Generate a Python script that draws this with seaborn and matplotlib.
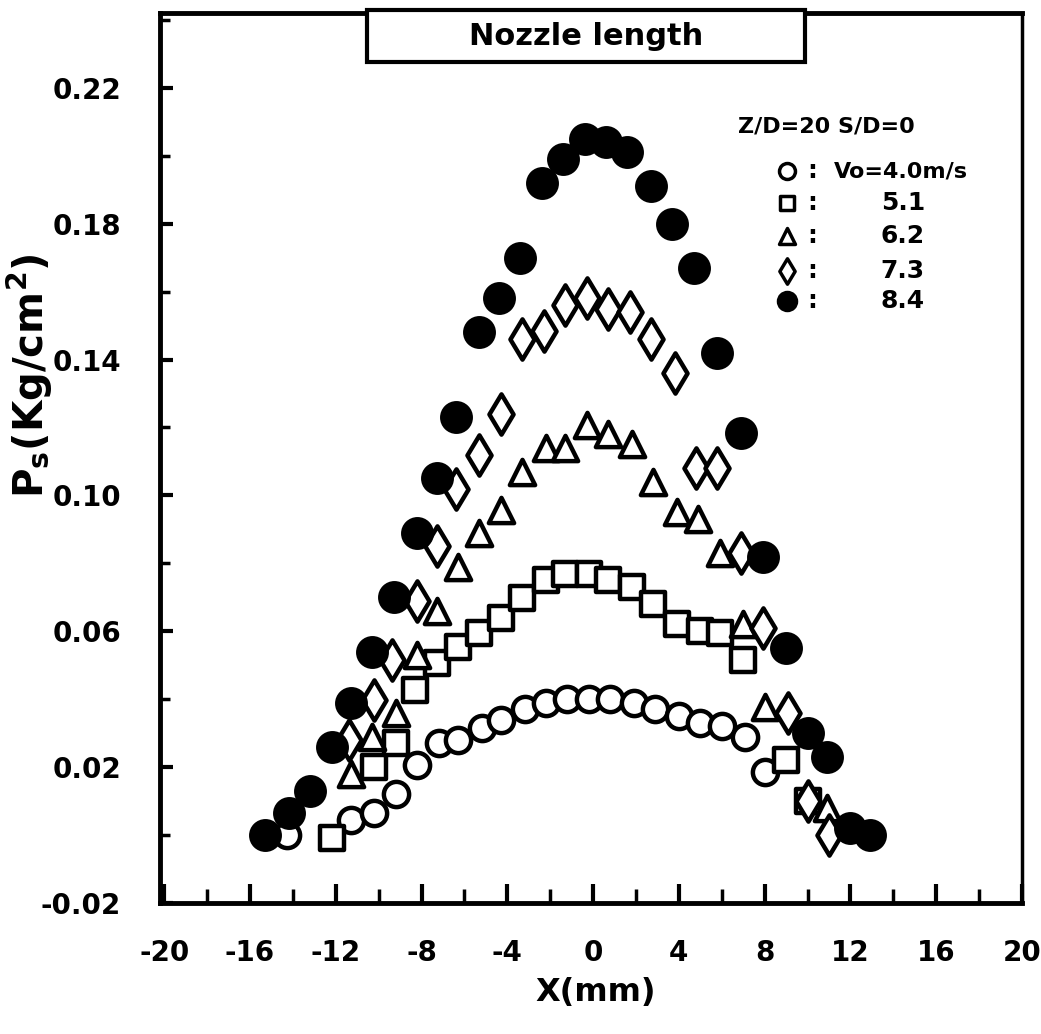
import matplotlib
matplotlib.use("Agg")
import matplotlib.pyplot as plt
from matplotlib.patches import Rectangle
from matplotlib.ticker import MultipleLocator, FixedLocator
import seaborn as sns
import pandas as pd

# ---------------- data ----------------
series_labels = ["Vo=4.0m/s", "5.1", "6.2", "7.3", "8.4"]

v40_x = [-14.3, -11.3, -10.2, -9.2, -8.2, -7.2, -6.3, -5.2, -4.3, -3.2, -2.2, -1.2,
         -0.2, 0.8, 1.9, 2.9, 4.0, 5.0, 6.0, 7.1, 8.0]
v40_y = [0.000, 0.0044, 0.0065, 0.012, 0.0205, 0.027, 0.028, 0.0315, 0.034, 0.037,
         0.039, 0.040, 0.040, 0.040, 0.039, 0.037, 0.035, 0.033, 0.032, 0.029, 0.0185]

v51_x = [-12.2, -10.2, -9.2, -8.3, -7.3, -6.3, -5.3, -4.3, -3.3, -2.2, -1.3, -0.2,
         0.7, 1.8, 2.8, 3.9, 5.0, 5.9, 7.0, 9.0, 10.0]
v51_y = [-0.001, 0.020, 0.027, 0.0427, 0.0506, 0.0553, 0.0594, 0.064, 0.0697, 0.075,
         0.077, 0.077, 0.075, 0.073, 0.068, 0.062, 0.060, 0.0594, 0.0515, 0.022, 0.010]

v62_x = [-11.3, -10.3, -9.2, -8.2, -7.3, -6.3, -5.3, -4.3, -3.3, -2.2, -1.3, -0.3,
         0.7, 1.8, 2.8, 3.9, 4.9, 5.9, 7.0, 8.0, 10.9]
v62_y = [0.018, 0.029, 0.036, 0.053, 0.066, 0.079, 0.089, 0.0956, 0.107, 0.114,
         0.114, 0.1206, 0.118, 0.115, 0.104, 0.095, 0.093, 0.083, 0.062, 0.0376, 0.008]

v73_x = [-11.4, -10.2, -9.4, -8.2, -7.3, -6.4, -5.3, -4.3, -3.3, -2.3, -1.3, -0.3,
         0.7, 1.7, 2.7, 3.8, 4.8, 5.8, 6.9, 7.9, 9.1, 10.0, 11.0]
v73_y = [0.028, 0.0397, 0.0515, 0.069, 0.085, 0.102, 0.112, 0.124, 0.146, 0.1485,
         0.156, 0.158, 0.155, 0.154, 0.146, 0.136, 0.108, 0.108, 0.083, 0.061, 0.036,
         0.010, 0.000]

v84_x = [-15.3, -14.2, -13.2, -12.2, -11.3, -10.3, -9.3, -8.2, -7.3, -6.4, -5.3, -4.4,
         -3.4, -2.4, -1.4, -0.4, 0.6, 1.6, 2.7, 3.7, 4.7, 5.8, 6.9, 7.9, 9.0, 10.0,
         10.9, 12.0, 12.9]
v84_y = [0.000, 0.0065, 0.013, 0.026, 0.039, 0.054, 0.070, 0.089, 0.105, 0.123, 0.148,
         0.158, 0.170, 0.192, 0.199, 0.205, 0.204, 0.201, 0.191, 0.180, 0.167, 0.142,
         0.1185, 0.082, 0.055, 0.030, 0.023, 0.002, 0.000]

x_ticklabels = [-20, -16, -12, -8, -4, 0, 4, 8, 12, 16, 20]
y_ticklabels = [-0.02, 0.02, 0.06, 0.10, 0.14, 0.18, 0.22]

title_text = "Nozzle length"
legend_header = "Z/D=20 S/D=0"
x_label = "X(mm)"
y_label = r"P$_\mathbf{s}$(Kg/cm$^\mathbf{2}$)"

# ---------------- style ----------------
sns.set_theme(style="white")
plt.rcParams["font.family"] = ["DejaVu Sans"]
plt.rcParams["font.weight"] = "bold"
plt.rcParams["mathtext.default"] = "bf"
plt.rcParams["text.color"] = "black"
plt.rcParams["axes.labelcolor"] = "black"
plt.rcParams["xtick.color"] = "black"
plt.rcParams["ytick.color"] = "black"

fig = plt.figure(figsize=(10.41, 10.34), dpi=100)
ax = fig.add_axes([0.1537, 0.1267, 0.8280, 0.8607])

frames = []
for lab, xs, ys in zip(series_labels,
                       [v40_x, v51_x, v62_x, v73_x, v84_x],
                       [v40_y, v51_y, v62_y, v73_y, v84_y]):
    frames.append(pd.DataFrame({"x": xs, "y": ys, "series": lab}))
df = pd.concat(frames, ignore_index=True)

styles = {
    "Vo=4.0m/s": dict(marker="o", s=330, facecolor="white"),
    "5.1": dict(marker="s", s=280, facecolor="white"),
    "6.2": dict(marker="^", s=330, facecolor="white"),
    "7.3": dict(marker="d", s=420, facecolor="white"),
    "8.4": dict(marker="o", s=420, facecolor="black"),
}
for lab in series_labels:
    st = styles[lab]
    sub = df[df["series"] == lab]
    sns.scatterplot(data=sub, x="x", y="y", ax=ax, marker=st["marker"], s=st["s"],
                    facecolor=st["facecolor"], edgecolor="black", linewidth=3.2,
                    legend=False, zorder=3)

ax.set_xlim(-20.2, 20.0)
ax.set_ylim(-0.02, 0.242)

ax.xaxis.set_major_locator(FixedLocator(x_ticklabels))
ax.xaxis.set_minor_locator(MultipleLocator(2))
ax.set_xticklabels([str(v) for v in x_ticklabels])
ax.yaxis.set_major_locator(FixedLocator(y_ticklabels))
ax.yaxis.set_minor_locator(MultipleLocator(0.02))
ax.set_yticklabels([f"{v:.2f}" for v in y_ticklabels])

ax.tick_params(axis="x", which="major", direction="in", length=14, width=3,
               bottom=True, top=False, labelsize=20, pad=26, colors="black")
ax.tick_params(axis="x", which="minor", direction="in", length=10, width=2.5,
               bottom=True, top=False)
ax.tick_params(axis="y", which="major", direction="in", length=9, width=3,
               left=True, right=False, labelsize=20, pad=28, colors="black")
ax.tick_params(axis="y", which="minor", direction="in", length=7, width=2.5,
               left=True, right=False)
for t in ax.get_xticklabels() + ax.get_yticklabels():
    t.set_fontweight("bold")
    t.set_color("black")

for side, lw in [("left", 3.5), ("bottom", 3.5), ("top", 3.5), ("right", 2.5)]:
    ax.spines[side].set_visible(True)
    ax.spines[side].set_color("black")
    ax.spines[side].set_linewidth(lw)

ax.set_xlabel(x_label, fontsize=23, fontweight="bold", color="black")
ax.set_ylabel(y_label, fontsize=29, fontweight="bold", color="black")
ax.yaxis.set_label_coords(-0.122, 0.593)
ax.xaxis.set_label_coords(0.505, -0.083)

# title box
ax.add_patch(Rectangle((0.240, 0.945), 0.508, 0.058, transform=ax.transAxes,
                       facecolor="white", edgecolor="black", linewidth=3,
                       clip_on=False, zorder=4))
ax.text(0.494, 0.974, title_text, transform=ax.transAxes, ha="center", va="center",
        fontsize=22, fontweight="bold", color="black", zorder=5)

# legend block
ax.text(0.670, 0.872, legend_header, transform=ax.transAxes, ha="left", va="center",
        fontsize=16, fontweight="bold", color="black")
leg_rows = [0.822, 0.786, 0.749, 0.710, 0.676]
for lab, yy in zip(series_labels, leg_rows):
    st = styles[lab]
    ax.scatter([0.728], [yy], transform=ax.transAxes, marker=st["marker"],
               s=st["s"] * 0.40, facecolor=st["facecolor"], edgecolor="black",
               linewidth=2.5, clip_on=False, zorder=5)
    ax.text(0.757, yy, ":", transform=ax.transAxes, ha="center", va="center",
            fontsize=18, fontweight="bold", color="black")
    if lab.startswith("Vo"):
        ax.text(0.782, yy, lab, transform=ax.transAxes, ha="left", va="center",
                fontsize=16, fontweight="bold", color="black")
    else:
        ax.text(0.836, yy, lab, transform=ax.transAxes, ha="left", va="center",
                fontsize=18, fontweight="bold", color="black")

fig.savefig("out.png", dpi=100, facecolor="white")
